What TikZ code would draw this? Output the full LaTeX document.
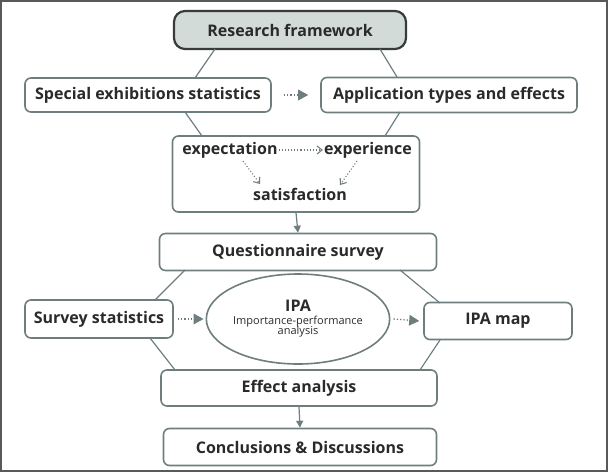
\documentclass[tikz,border=0pt]{standalone}
\usepackage{fontspec}
\setmainfont{Open Sans}
\usetikzlibrary{shapes.geometric,arrows.meta}
\definecolor{bd}{HTML}{6E7E7E}
\definecolor{tx}{HTML}{2A2A2A}
\definecolor{rff}{HTML}{D3DBD8}
\begin{document}
\begin{tikzpicture}[x=1pt,y=-1pt,
  box/.style={draw=bd,line width=1.6pt,rounded corners=6pt,font=\fontsize{16}{18}\selectfont\bfseries,text=tx,inner sep=0pt},
  ln/.style={draw=bd,line width=1.2pt},
  dar/.style={draw=bd,line width=1.3pt,dotted,-{Triangle[width=11pt,length=10pt,fill=bd,line width=0pt]}},
  dar2/.style={draw=bd,line width=1.1pt,dotted,-{Straight Barb[width=8pt,length=5pt,line width=1.1pt]}},
  lbl/.style={font=\fontsize{16}{18}\selectfont\bfseries,text=tx,inner sep=1pt}]
\useasboundingbox (0,0) rectangle (608,472);
\draw[gray!70!black,line width=2pt] (1,1) rectangle (607,471);
\node[box,fill=rff,draw=tx!80!bd,line width=2.2pt,rounded corners=11pt,minimum width=232pt,minimum height=38pt] (rf) at (290,30) {Research framework};
\node[box,minimum width=246pt,minimum height=34pt] (se) at (148,95) {Special exhibitions statistics};
\node[box,minimum width=256pt,minimum height=35pt] (ap) at (449,95) {Application types and effects};
\node[box,minimum width=247pt,minimum height=76pt] (mid) at (296,174) {};
\node[lbl] (ex) at (230,150) {expectation};
\node[lbl] (ep) at (368,150) {experience};
\node[lbl] (sa) at (300,194) {satisfaction};
\node[box,minimum width=277pt,minimum height=37pt] (qs) at (298,252) {Questionnaire survey};
\node[box,minimum width=148pt,minimum height=38pt] (ss) at (99,319) {Survey statistics};
\node[draw=bd,line width=1.6pt,ellipse,minimum width=164pt,minimum height=90pt,text=tx,align=center,inner sep=0pt] (ipa) at (298,319) {{\fontsize{16}{18}\selectfont\bfseries IPA}\\[1pt]{\fontsize{11}{12}\selectfont Importance-performance}\\[-2pt]{\fontsize{11}{12}\selectfont analysis}};
\node[box,minimum width=148pt,minimum height=37pt] (im) at (498,321) {IPA map};
\node[box,minimum width=276pt,minimum height=36pt] (ea) at (299,388) {Effect analysis};
\node[box,minimum width=273pt,minimum height=37pt] (cd) at (300,447) {Conclusions \& Discussions};
\draw[ln] (215,49) -- (195,78);
\draw[ln] (380,49) -- (397,77);
\draw[ln] (185,112) -- (202,136);
\draw[ln] (400,112) -- (385,136);
\draw[ln] (185,270) -- (155,300);
\draw[ln] (400,270) -- (440,303);
\draw[ln] (150,338) -- (175,370);
\draw[ln] (440,340) -- (420,370);
\draw[bd,line width=1.2pt,-{Triangle[width=7pt,length=7pt]}] (mid.south) -- (qs.north);
\draw[bd,line width=1.2pt,-{Triangle[width=7pt,length=7pt]}] (ea.south) -- (cd.north);
\draw[dar] ([xshift=12pt]se.east) -- ([xshift=-12pt]ap.west);
\draw[dar] ([xshift=4pt]ss.east) -- ([xshift=-2pt]ipa.west);
\draw[dar] ([xshift=3pt]ipa.east) -- ([xshift=-4pt]im.west);
\draw[dar2] (ex.east) -- (ep.west);
\draw[dar2] (243,161) -- (260,184);
\draw[dar2] (357,161) -- (340,185);
\end{tikzpicture}
\end{document}
